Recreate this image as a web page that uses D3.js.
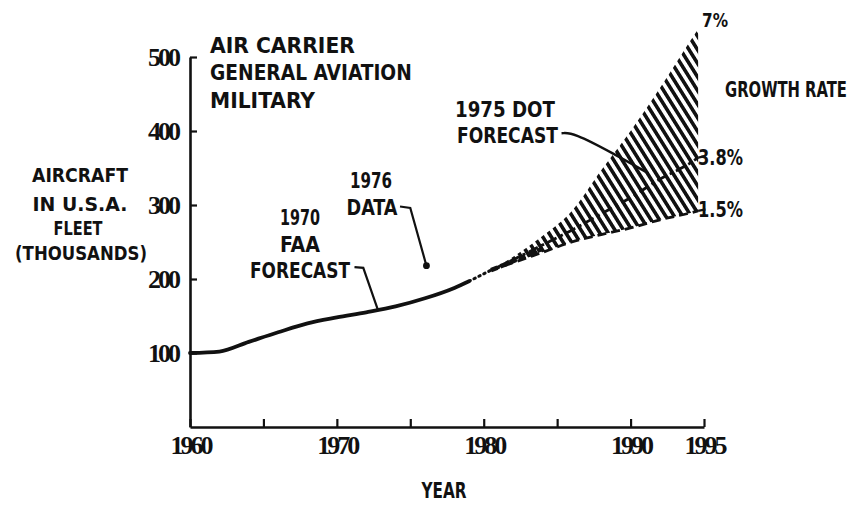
<!DOCTYPE html>
<html><head><meta charset="utf-8">
<script src="https://cdn.jsdelivr.net/npm/d3@7"></script>
<style>
html,body{margin:0;padding:0;background:#fff;}
text{font-family:"DejaVu Sans Condensed","Liberation Sans Narrow","Liberation Sans",sans-serif;font-weight:bold;fill:#111;}
</style></head>
<body><svg id="c" width="853" height="505"></svg>
<script>
// ---- data ----
const xTicks = [1960,1965,1970,1975,1980,1985,1990,1995];
const xTickLabels = [1960,1970,1980,1990,1995];
const yTicks = [100,200,300,400,500];
const mainYears = [1960,1962,1964,1966,1968,1970,1972,1974,1976,1978,1979];
const mainValues = [100,102,115,128,140,148,155,163,174,188,197];
const dotYears = [1979,1980,1980.5];
const dotValues = [197,207,212];
const fcYears = [1980.5,1982,1984,1986,1988,1990,1992,1994,1994.6];
const high7 = [212,230,258,292,347,400,458,520,538];
const mid38 = [212,226,246,266,288,310,335,356,364];
const low15 = [212,222,236,250,260,269,280,289,292];
const data1976 = {year:1976.1, value:218};
const growthLabels = ["7%","3.8%","1.5%"];
const categoryLines = ["AIR CARRIER","GENERAL AVIATION","MILITARY"];
const yTitle = ["AIRCRAFT","IN U.S.A.","FLEET","(THOUSANDS)"];

const svg = d3.select("#c");
const x = d3.scaleLinear().domain([1960,1995]).range([190,704]);
const y = d3.scaleLinear().domain([0,500]).range([427,57]);

// text fitted to a given width (horizontal squeeze/stretch only)
function label(px, py, t, anchor, size, width){
  const el = svg.append("text")
    .attr("text-anchor", anchor||"start")
    .style("font-size", (size||22)+"px")
    .text(t);
  let sx = 1;
  if (width) { const w = el.node().getComputedTextLength(); if (w>0) sx = width/w; }
  el.attr("transform", `translate(${px},${py}) scale(${sx},1)`);
  return el;
}

// hatch pattern
const defs = svg.append("defs");
defs.append("pattern").attr("id","hatch").attr("patternUnits","userSpaceOnUse")
  .attr("width",7.2).attr("height",8).attr("patternTransform","rotate(-32)")
  .append("line").attr("x1",3.6).attr("y1",0).attr("x2",3.6).attr("y2",8)
  .attr("stroke","#111").attr("stroke-width",3.6);

// axes
const yAxis = d3.axisLeft(y).tickValues(yTicks).tickSizeInner(-7).tickSizeOuter(0).tickPadding(12);
const gy = svg.append("g").attr("transform",`translate(${x(1960)},0)`).call(yAxis);
const xAxis = d3.axisBottom(x).tickValues(xTicks).tickSizeInner(-8).tickSizeOuter(0).tickPadding(9)
  .tickFormat(d => xTickLabels.includes(d) ? d : "");
const gx = svg.append("g").attr("transform",`translate(0,${y(0)})`).call(xAxis);
[gx,gy].forEach(g=>{
  g.select(".domain").attr("stroke","#111").attr("stroke-width",2.6);
  g.selectAll(".tick line").attr("stroke","#111").attr("stroke-width",2.2);
  g.selectAll(".tick text").attr("font-family",null).attr("font-size",null)
   .style("font-size","26px")
   .style("font-family",'"Liberation Serif","DejaVu Serif",serif').style("letter-spacing","-3px");
});
gx.selectAll(".tick text").attr("dy","0.71em");

// hatched area
const area = d3.area().x((d,i)=>x(fcYears[i])).y0((d,i)=>y(low15[i])).y1((d,i)=>y(high7[i])).curve(d3.curveMonotoneX);
svg.append("path").datum(fcYears).attr("d",area).attr("fill","url(#hatch)");

const line = d3.line().curve(d3.curveMonotoneX);
// main curve
svg.append("path").attr("d", line(mainYears.map((d,i)=>[x(d),y(mainValues[i])])))
  .attr("fill","none").attr("stroke","#111").attr("stroke-width",3.8).attr("stroke-linecap","round");
// dotted transition
svg.append("path").attr("d", line(dotYears.map((d,i)=>[x(d),y(dotValues[i])])))
  .attr("fill","none").attr("stroke","#111").attr("stroke-width",3).attr("stroke-dasharray","1.5,4").attr("stroke-linecap","round");
// 3.8% dash-dot
svg.append("path").attr("d", line(fcYears.map((d,i)=>[x(d),y(mid38[i])])))
  .attr("fill","none").attr("stroke","#111").attr("stroke-width",2.8).attr("stroke-dasharray","10,4,3,4");
// 1.5% dashed
svg.append("path").attr("d", line(fcYears.map((d,i)=>[x(d),y(low15[i])])))
  .attr("fill","none").attr("stroke","#111").attr("stroke-width",2.8).attr("stroke-dasharray","9,5");
// thick start of forecast
svg.append("path").attr("d", line(fcYears.slice(0,3).map((d,i)=>[x(d),y((mid38[i]+low15[i])/2)])))
  .attr("fill","none").attr("stroke","#111").attr("stroke-width",4.5).attr("stroke-dasharray","7,3");

// 1976 data point
svg.append("circle").attr("cx",x(data1976.year)).attr("cy",y(data1976.value)).attr("r",3.4).attr("fill","#111");

// leaders
const leader = pts => svg.append("path").attr("d", d3.line()(pts.map(p=>[x(p[0]),y(p[1])])))
  .attr("fill","none").attr("stroke","#111").attr("stroke-width",2.2);
leader([[1974.3,298],[1975.0,296],[1976.1,218]]);
leader([[1971.2,216],[1971.8,215],[1972.8,158]]);
svg.append("path").attr("d", d3.line().curve(d3.curveBasis)([[x(1985.3),y(397)],[x(1986.1),y(398)],[x(1988.8),y(370)],[x(1991.2),y(343)]]))
  .attr("fill","none").attr("stroke","#111").attr("stroke-width",2.4);

// growth-rate ticks
leader([[1994.6,364],[1995.1,366]]);
leader([[1994.6,292],[1995.1,294]]);

// texts
label(210, 53, categoryLines[0], "start", 22, 145);
label(210, 80, categoryLines[1], "start", 22, 202);
label(210, 108, categoryLines[2], "start", 22, 105);
label(80, 182, yTitle[0], "middle", 20, 96);
label(80, 211, yTitle[1], "middle", 20, 95);
label(78, 235, yTitle[2], "middle", 20, 49);
label(81, 260, yTitle[3], "middle", 20, 132);
label(371, 188, "1976", "middle", 21, 42);
label(372, 215, "DATA", "middle", 21, 51);
label(300, 225, "1970", "middle", 21, 40);
label(300, 252, "FAA", "middle", 21, 40);
label(300, 278, "FORECAST", "middle", 21, 100);
label(455, 117, "1975 DOT", "start", 21, 100);
label(457, 143, "FORECAST", "start", 21, 101);
label(702, 27, growthLabels[0], "start", 20, 26);
label(698, 165, growthLabels[1], "start", 21, 45);
label(698, 217, growthLabels[2], "start", 21, 45);
label(725, 97, "GROWTH RATE", "start", 21, 122);
label(444, 498, "YEAR", "middle", 21, 45);
</script></body></html>
